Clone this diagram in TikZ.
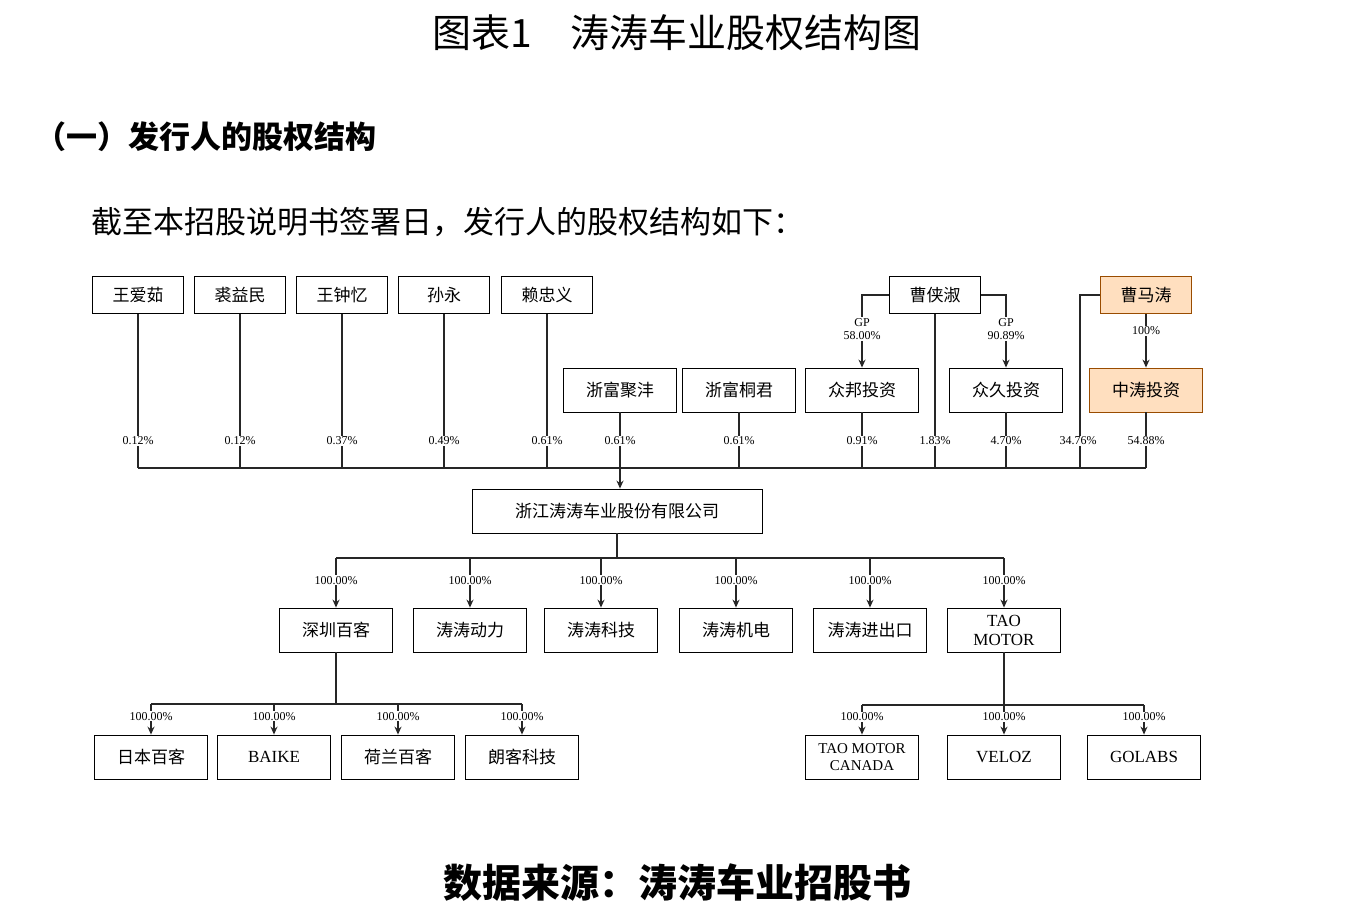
\documentclass[tikz,border=0pt]{standalone}
\usepackage{fontspec}
\setmainfont{Liberation Serif}
\newfontfamily\cjk{Noto Sans CJK SC}
\usetikzlibrary{arrows.meta}
\tikzset{
  ent/.style={draw,thick,minimum width=91pt,minimum height=37pt,inner sep=1pt,font=\cjk\fontsize{17}{19}\selectfont},
  entb/.style={ent,minimum width=113pt,minimum height=44pt},
  own/.style={draw=orange!60!black,fill=orange!25},
  pct/.style={fill=white,inner sep=1pt,font=\fontsize{12}{13}\selectfont},
  ln/.style={line width=1.3pt,draw=black!85},
  arr/.style={ln,-{Stealth[length=8pt,width=7pt]}}
}
\begin{document}
\begin{tikzpicture}[x=1pt,y=-1pt]
		\useasboundingbox (0,0) rectangle (1354,918);
		% titles
		\node[font=\cjk\fontsize{39}{42}\selectfont] (title) at (677,33) {图表1\quad 涛涛车业股权结构图};
		\node[font=\cjk\bfseries\fontsize{31}{34}\selectfont,anchor=west] (sec) at (32,137) {（一）发行人的股权结构};
		\node[font=\cjk\fontsize{31}{34}\selectfont,anchor=west] (intro) at (88,222) {截至本招股说明书签署日，发行人的股权结构如下：};
		\node[font=\cjk\bfseries\fontsize{39}{42}\selectfont] (src) at (677,883) {数据来源：涛涛车业招股书};
		% shareholders
		\node[ent] (wai) at (138,295) {王爱茹};
		\node[ent] (qym) at (240,295) {裘益民};
		\node[ent] (wzy) at (342,295) {王钟忆};
		\node[ent] (sy) at (444,295) {孙永};
		\node[ent] (lzy) at (547,295) {赖忠义};
		\node[ent] (cxs) at (935,295) {曹侠淑};
		\node[ent,own] (cmt) at (1146,295) {曹马涛};
		\node[entb] (zfjf) at (620,390) {浙富聚沣};
		\node[entb] (zftj) at (739,390) {浙富桐君};
		\node[entb] (zbtz) at (862,390) {众邦投资};
		\node[entb] (zjtz) at (1006,390) {众久投资};
		\node[entb,own] (zttz) at (1146,390) {中涛投资};
		\node[entb,minimum width=290pt] (com) at (617,511) {浙江涛涛车业股份有限公司};
		% control lines
		\draw[arr] (cxs.west) -| (zbtz.north);
		\draw[arr] (cxs.east) -| (zjtz.north);
		\node[pct,align=center] (gp1) at (862,329) {GP\\58.00\%};
		\node[pct,align=center] (gp2) at (1006,329) {GP\\90.89\%};
		\draw[arr] (cmt) -- (zttz);
		\node[pct] (p100) at (1146,331) {100\%};
		\coordinate (bus) at (620,468);
		\coordinate (cm) at (1080,468);
		\foreach \n in {wai,qym,wzy,sy,lzy,zfjf,zftj,zbtz,zjtz,zttz,cxs}
			\draw[ln] (\n.south) -- (\n.south |- bus);
		\draw[ln] (cmt.west) -| (cm);
		\draw[ln] (wai.south |- bus) -- (zttz.south |- bus);
		\foreach \x/\p in {138/0.12,240/0.12,342/0.37,444/0.49,547/0.61,620/0.61,739/0.61,862/0.91,935/1.83,1006/4.70,1078/34.76,1146/54.88}
			\node[pct] at (\x,441) {\p\%};
		\draw[arr] (bus) -- (bus |- com.north);
		% subsidiaries
		\node[entb] (szbk) at (336,630) {深圳百客};
		\node[entb] (ttdl) at (470,630) {涛涛动力};
		\node[entb] (ttkj) at (601,630) {涛涛科技};
		\node[entb] (ttjd) at (736,630) {涛涛机电};
		\node[entb] (ttjck) at (870,630) {涛涛进出口};
		\node[entb,align=center,font=\fontsize{17}{19}\selectfont] (tao) at (1004,630) {TAO\\MOTOR};
		\coordinate (bus2) at (617,558);
		\draw[ln] (com.south) -- (bus2);
		\draw[ln] (szbk.north |- bus2) -- (tao.north |- bus2);
		\foreach \n in {szbk,ttdl,ttkj,ttjd,ttjck,tao}
			\draw[arr] (\n.north |- bus2) -- node[pct,pos=0.45] {100.00\%} (\n.north);
		% third level
		\node[entb] (rbbk) at (151,757) {日本百客};
		\node[entb,font=\fontsize{17}{19}\selectfont] (baike) at (274,757) {BAIKE};
		\node[entb] (hlbk) at (398,757) {荷兰百客};
		\node[entb] (lkkj) at (522,757) {朗客科技};
		\node[entb,align=center,font=\fontsize{15}{17}\selectfont] (tmc) at (862,757) {TAO MOTOR\\CANADA};
		\node[entb,font=\fontsize{17}{19}\selectfont] (veloz) at (1004,757) {VELOZ};
		\node[entb,font=\fontsize{17}{19}\selectfont] (golabs) at (1144,757) {GOLABS};
		\coordinate (bus3) at (336,704);
		\coordinate (bus4) at (1004,705);
		\draw[ln] (szbk.south) -- (bus3);
		\draw[ln] (rbbk.north |- bus3) -- (lkkj.north |- bus3);
		\foreach \n in {rbbk,baike,hlbk,lkkj}
			\draw[arr] (\n.north |- bus3) -- node[pct,pos=0.4] {100.00\%} (\n.north);
		\draw[ln] (tao.south) -- (bus4);
		\draw[ln] (tmc.north |- bus4) -- (golabs.north |- bus4);
		\foreach \n in {tmc,veloz,golabs}
			\draw[arr] (\n.north |- bus4) -- node[pct,pos=0.4] {100.00\%} (\n.north);
	\end{tikzpicture}
\end{document}
